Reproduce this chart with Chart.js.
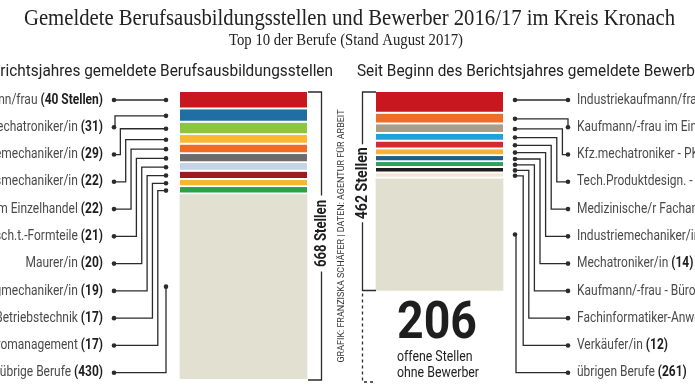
<!DOCTYPE html>
<html lang="de">
<head>
<meta charset="utf-8">
<title>Gemeldete Berufsausbildungsstellen und Bewerber 2016/17 im Kreis Kronach</title>
<script src="https://cdn.jsdelivr.net/npm/chart.js@4.4.1/dist/chart.umd.min.js"></script>
<style>
  html, body { margin: 0; padding: 0; background: #fff; }
  #chart { display: block; }
</style>
</head>
<body>
<canvas id="chart" width="695" height="391"></canvas>
<script>
// Top 10 der Berufe, Stand August 2017 (Daten: Agentur fuer Arbeit)
const seiten = ['Stellen', 'Bewerber']

const stellenBerufe = [
  'Industriekaufmann/frau', 'Kfz-Mechatroniker/in', 'Industriemechaniker/in',
  'Zerspanungsmechaniker/in', 'Kaufmann/-frau im Einzelhandel',
  'Verfahrensmech. f. Kunstst.- u. Kautsch.t.-Formteile', 'Maurer/in',
  'Werkzeugmechaniker/in', 'Elektroniker/in für Betriebstechnik',
  'Kaufmann/-frau für Büromanagement', 'übrige Berufe'
]
const stellen = [40, 31, 29, 22, 22, 21, 20, 19, 17, 17, 430]

const bewerberBerufe = [
  'Industriekaufmann/frau', 'Kaufmann/-frau im Einzelhandel',
  'Kfz.mechatroniker - PKW-Technik', 'Tech.Produktdesign. - Maschinenbau',
  'Medizinische/r Fachangestellte/r', 'Industriemechaniker/in', 'Mechatroniker/in',
  'Kaufmann/-frau - Büromanagement', 'Fachinformatiker-Anwendungsentwicklung',
  'Verkäufer/in', 'übrigen Berufe'
]
const bewerber = [50, 25, 22, 18, 18, 16, 14, 13, 13, 12, 261]

const stellenFarben = ['#c8171e', '#1f6ea4', '#8cc63e', '#fbb731', '#ee6a25', '#6b6b6e',
  '#c2d4e5', '#9a1c20', '#f4b82e', '#2aa24a', '#e2e0d1']
const bewerberFarben = ['#c8171e', '#ee6d2b', '#a99e88', '#1ea2dd', '#d42a32', '#efb33a',
  '#1e5f89', '#2ba35a', '#1c1c1c', '#f4e7d6', '#e1e0d0']

const summeStellen = stellen.reduce((a, b) => a + b, 0)
const summeBewerber = bewerber.reduce((a, b) => a + b, 0)

const narrow = '"Liberation Sans Narrow", Roboto, "Liberation Sans", sans-serif'
const serif = '"Liberation Serif", "DejaVu Serif", serif'

const datasets = stellen.map((v, i) => ({
  label: stellenBerufe[i] + ' / ' + bewerberBerufe[i],
  data: [v, bewerber[i]],
  backgroundColor: [stellenFarben[i], bewerberFarben[i]],
  borderColor: '#fff',
  borderWidth: { top: 0, left: 0, right: 0, bottom: i < stellen.length - 1 ? 2 : 0 },
  borderSkipped: false,
  barThickness: 127
}))

// draws text squeezed horizontally to a given width (condensed look)
function squeezed(ctx, text, x, y, font, color, scale, align) {
  ctx.save()
  ctx.font = font
  ctx.fillStyle = color
  ctx.textAlign = align || 'left'
  ctx.translate(x, y)
  ctx.scale(scale, 1)
  ctx.fillText(text, 0, 0)
  ctx.restore()
}

function fitScale(ctx, text, font, width) {
  ctx.font = font
  return width / ctx.measureText(text).width
}

const fReg = '14.5px ' + narrow
const fBold = 'bold 14.5px ' + narrow

function drawLabel(ctx, name, num, x, y, align, s) {
  ctx.font = fReg
  const wn = ctx.measureText(name + ' ').width * s
  ctx.font = fBold
  const wb = ctx.measureText(num).width * s
  const start = align === 'right' ? x - wn - wb : x
  squeezed(ctx, name + ' ', start, y, fReg, '#4a4a4a', s)
  squeezed(ctx, num, start + wn, y, fBold, '#1e1e1e', s)
}

function dot(ctx, x, y) {
  ctx.beginPath()
  ctx.arc(x, y, 2.3, 0, Math.PI * 2)
  ctx.fill()
}

const beschriftung = {
  id: 'beschriftung',
  afterDraw(chart) {
    const ctx = chart.ctx
    const yS = chart.scales.y
    ctx.save()
    ctx.textBaseline = 'middle'

    // Titel
    const titel = 'Gemeldete Berufsausbildungsstellen und Bewerber 2016/17 im Kreis Kronach'
    const untertitel = 'Top 10 der Berufe (Stand August 2017)'
    let s = fitScale(ctx, titel, '24px ' + serif, 651)
    squeezed(ctx, titel, 349.5, 19, '24px ' + serif, '#222', s, 'center')
    s = fitScale(ctx, untertitel, '16px ' + serif, 234)
    squeezed(ctx, untertitel, 346, 41, '16px ' + serif, '#222', s, 'center')

    // Ueberschriften
    const fH = '17px ' + narrow
    s = fitScale(ctx, 'Seit Beginn des Berichtsjahres gemeldete Bewerb', fH, 338)
    squeezed(ctx, 'Seit Beginn des Berichtsjahres gemeldete Berufsausbildungsstellen', 333, 72, fH, '#222', s, 'right')
    squeezed(ctx, 'Seit Beginn des Berichtsjahres gemeldete Bewerber', 357, 72, fH, '#222', s, 'left')

    // Beschriftungen mit Verbindungslinien
    ctx.font = fReg
    let w = ctx.measureText('Verkäufer/in ').width
    ctx.font = fBold
    w += ctx.measureText('(12)').width
    const ls = 91 / w

    const barL = chart.getDatasetMeta(0).data[0]
    const barR = chart.getDatasetMeta(0).data[1]
    const dotL = barL.x - barL.width / 2 - 14
    const dotR = barR.x + barR.width / 2 + 12
    const n = stellen.length
    ctx.strokeStyle = '#2b2b2b'
    ctx.fillStyle = '#2b2b2b'
    ctx.lineWidth = 1.3

    for (let i = 0; i < n; i++) {
      const ly = 100 + i * 27.27
      const elL = chart.getDatasetMeta(i).data[0]
      const elR = chart.getDatasetMeta(i).data[1]
      const myL = i === 0 ? ly : (elL.y + elL.base) / 2
      const myR = i === 0 ? ly : (elR.y + elR.base) / 2

      // links
      ctx.beginPath()
      ctx.moveTo(114, ly)
      if (i === 0) {
        ctx.lineTo(dotL, ly)
      } else if (i === n - 1) {
        ctx.lineTo(dotL, ly)
        ctx.lineTo(dotL, myL)
      } else {
        const rx = 115 + (i - 1) * 5.35
        ctx.lineTo(rx, ly)
        ctx.lineTo(rx, myL)
        ctx.lineTo(dotL, myL)
      }
      ctx.stroke()
      dot(ctx, 114, ly)
      dot(ctx, dotL, myL)

      // rechts
      ctx.beginPath()
      ctx.moveTo(dotR, myR)
      if (i === 0) {
        ctx.lineTo(568, ly)
      } else if (i === n - 1) {
        ctx.lineTo(dotR + 1, myR)
        ctx.lineTo(dotR + 1, ly)
        ctx.lineTo(568, ly)
      } else {
        const rx = 568 - (i - 1) * 5.6
        ctx.lineTo(rx, myR)
        ctx.lineTo(rx, ly)
        ctx.lineTo(568, ly)
      }
      ctx.stroke()
      dot(ctx, dotR, myR)
      dot(ctx, 568, ly)

      const numL = i === 0 ? '(' + stellen[i] + ' Stellen)' : '(' + stellen[i] + ')'
      const numR = i === 0 ? '(' + bewerber[i] + ' Bewerber)' : '(' + bewerber[i] + ')'
      drawLabel(ctx, stellenBerufe[i], numL, 103, ly, 'right', ls)
      drawLabel(ctx, bewerberBerufe[i], numR, 577, ly, 'left', ls)
    }

    // Klammern mit Summen
    const top = yS.getPixelForValue(0)
    const botL = yS.getPixelForValue(summeStellen)
    const botR = yS.getPixelForValue(summeBewerber)
    const txtL = summeStellen + ' Stellen'
    const txtR = summeBewerber + ' Stellen'
    const fB = 'bold 17px ' + narrow
    const midL = (top + botL) / 2 - 2
    const midR = (top + botR) / 2 - 8
    ctx.lineWidth = 1.3
    ctx.beginPath()
    ctx.moveTo(308, top); ctx.lineTo(321.5, top); ctx.lineTo(321.5, midL - 38)
    ctx.moveTo(321.5, midL + 38); ctx.lineTo(321.5, botL + 1); ctx.lineTo(308, botL + 1)
    ctx.stroke()
    ctx.beginPath()
    ctx.moveTo(376, top); ctx.lineTo(362.5, top); ctx.lineTo(362.5, midR - 39)
    ctx.moveTo(362.5, midR + 39); ctx.lineTo(362.5, botR); ctx.lineTo(376, botR)
    ctx.stroke()
    ctx.setLineDash([3, 3])
    ctx.beginPath()
    ctx.moveTo(362.5, botR + 3); ctx.lineTo(362.5, botL + 3); ctx.lineTo(376, botL + 3)
    ctx.stroke()
    ctx.setLineDash([])

    ctx.save()
    ctx.translate(321.5, midL)
    ctx.rotate(-Math.PI / 2)
    squeezed(ctx, txtL, 0, 0, fB, '#1e1e1e', fitScale(ctx, txtL, fB, 67), 'center')
    ctx.restore()
    ctx.save()
    ctx.translate(362.5, midR)
    ctx.rotate(-Math.PI / 2)
    squeezed(ctx, txtR, 0, 0, fB, '#1e1e1e', fitScale(ctx, txtR, fB, 72), 'center')
    ctx.restore()

    // Quelle
    const quelle = 'GRAFIK: FRANZISKA SCHÄFER | DATEN: AGENTUR FÜR ARBEIT'
    ctx.save()
    ctx.translate(342, 236)
    ctx.rotate(-Math.PI / 2)
    squeezed(ctx, quelle, 0, 0, '9.5px ' + narrow, '#333', fitScale(ctx, quelle, '9.5px ' + narrow, 253), 'center')
    ctx.restore()

    // offene Stellen ohne Bewerber
    const offen = String(summeStellen - summeBewerber)
    const fBig = 'bold 52px ' + narrow
    ctx.textBaseline = 'alphabetic'
    squeezed(ctx, offen, 397, 337.5, fBig, '#1e1e1e', fitScale(ctx, offen, fBig, 80))
    ctx.textBaseline = 'middle'
    const fSm = '15.5px ' + narrow
    s = fitScale(ctx, 'ohne Bewerber', fSm, 82)
    squeezed(ctx, 'offene Stellen', 397, 357, fSm, '#1e1e1e', s)
    squeezed(ctx, 'ohne Bewerber', 397, 373, fSm, '#1e1e1e', s)

    ctx.restore()
  }
}

new Chart(document.getElementById('chart'), {
  type: 'bar',
  data: { labels: seiten, datasets: datasets },
  options: {
    responsive: false,
    animation: false,
    layout: { padding: { left: 145.5, right: 157.5, top: 92, bottom: 12 } },
    plugins: {
      legend: { display: false },
      tooltip: { enabled: false },
      title: { display: false }
    },
    scales: {
      x: { display: false, stacked: true },
      y: { display: false, stacked: true, reverse: true, min: 0, max: summeStellen }
    }
  },
  plugins: [beschriftung]
})
</script>
</body>
</html>
